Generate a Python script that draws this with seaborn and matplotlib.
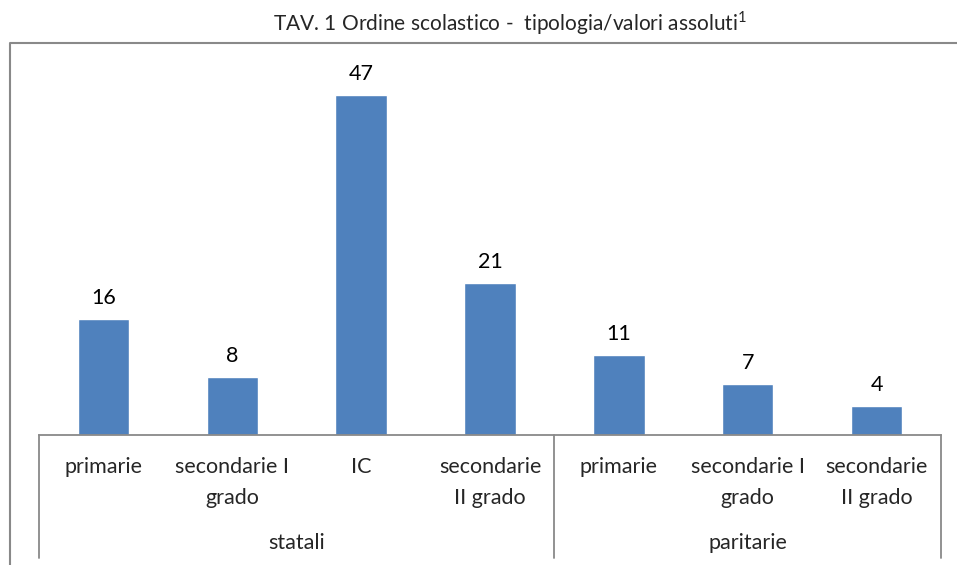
import matplotlib
matplotlib.use("Agg")
import matplotlib.pyplot as plt
import pandas as pd
import seaborn as sns
from matplotlib.lines import Line2D

# data
groups = ["statali", "statali", "statali", "statali", "paritarie", "paritarie", "paritarie"]
types = ["primarie", "secondarie I\ngrado", "IC", "secondarie\nII grado",
         "primarie", "secondarie I\ngrado", "secondarie\nII grado"]
values = [16, 8, 47, 21, 11, 7, 4]
group_names = ["statali", "paritarie"]

df = pd.DataFrame({"gruppo": groups, "tipo": types, "valore": values})
df["key"] = [f"{g}|{t}" for g, t in zip(groups, types)]

sns.set_theme(style="white")
plt.rcParams["font.family"] = ["Lato", "DejaVu Sans"]

W, H = 957, 565
fig = plt.figure(figsize=(W / 100, H / 100), dpi=100)
ax = fig.add_axes([39 / W, (H - 435) / H, (941 - 39) / W, (435 - 60) / H])

blue = "#4F81BD"
grey = "#898989"
fs = 15.5
sns.barplot(data=df, x="key", y="valore", color=blue, width=0.4,
            saturation=1, ax=ax)
for c in ax.containers:
    ax.bar_label(c, padding=8, fontsize=fs, color="black")

ax.set_xlim(-0.5, len(values) - 0.5)
ax.set_ylim(0, 51.8)
ax.set_xlabel("")
ax.set_ylabel("")
ax.set_xticks([])
ax.set_yticks([])
for s in ["top", "right", "left"]:
    ax.spines[s].set_visible(False)
ax.spines["bottom"].set_color(grey)
ax.spines["bottom"].set_linewidth(1.3)

tr = ax.get_xaxis_transform()
# category labels
for i, t in enumerate(types):
    ax.annotate(t, xy=(i, 0), xycoords=tr, xytext=(0, -22), textcoords="offset pixels",
                ha="center", va="top", fontsize=fs, linespacing=1.7, annotation_clip=False)

# group labels and separators
bounds = [-0.5]
for g in group_names:
    idx = [i for i, x in enumerate(groups) if x == g]
    ax.annotate(g, xy=((idx[0] + idx[-1]) / 2, 0), xycoords=tr, xytext=(0, -108),
                textcoords="offset pixels", ha="center", va="center", fontsize=fs,
                annotation_clip=False)
    bounds.append(idx[-1] + 0.5)
for b in bounds:
    ax.plot([b, b], [0, -(558 - 435) / 375], transform=tr, color=grey, lw=1.3, clip_on=False)

# outer chart frame (cropped)
fx = 10 / W
fy = 1 - 43 / H
fig.add_artist(Line2D([fx, fx, 1.0], [0, fy, fy], transform=fig.transFigure, color=grey, lw=1.5))

fig.text(510 / W, 1 - 23 / H, r"TAV. 1 Ordine scolastico -  tipologia/valori assoluti$^{\mathregular{1}}$",
         ha="center", va="center", fontsize=15)

fig.savefig("out.png", dpi=100)
